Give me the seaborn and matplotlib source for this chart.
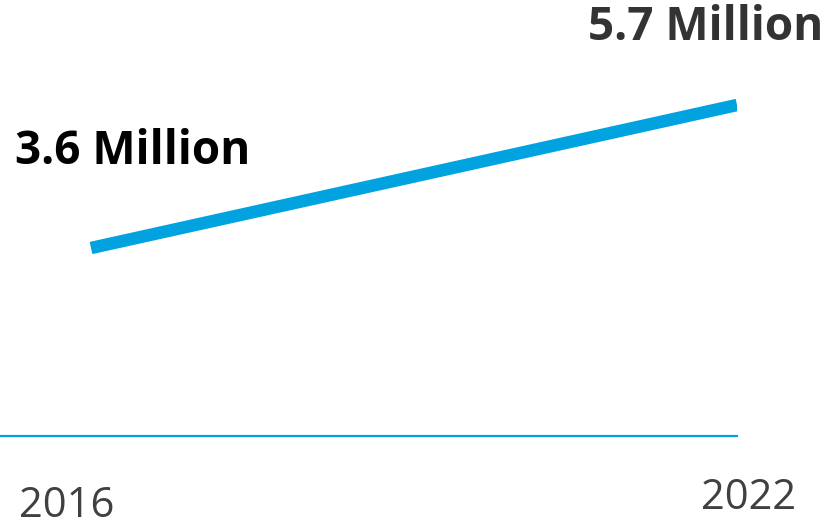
import matplotlib
matplotlib.use("Agg")
import matplotlib.pyplot as plt
import seaborn as sns
import pandas as pd

years = [2016, 2022]
values = [3.6, 5.7]
labels = ["3.6 Million", "5.7 Million"]
year_labels = ["2016", "2022"]

sns.set_theme(style="white")
plt.rcParams['font.family'] = ['Open Sans', 'DejaVu Sans']

W, H = 829, 528
fig = plt.figure(figsize=(W / 100, H / 100), dpi=100)
ax = fig.add_axes([0, 92 / H, 737 / W, 1 - 92 / H])

df = pd.DataFrame({"year": years, "value": values})
blue = "#00A3E0"
sns.lineplot(data=df, x="year", y="value", ax=ax, color=blue, linewidth=9,
             solid_capstyle="butt")

# x mapping: 2016 at pixel 91, 2022 at pixel 737
px_per_year = (737 - 91) / 6.0
ax.set_xlim(2016 - 91 / px_per_year, 2022)
# y mapping: 3.6 at pixel 248, 5.7 at pixel 105 (from top)
px_per_unit = (248 - 105) / 2.1
ymin = 3.6 - (436 - 248) / px_per_unit
ymax = 3.6 + 248 / px_per_unit
ax.set_ylim(ymin, ymax)

for s in ["top", "right", "left"]:
    ax.spines[s].set_visible(False)
ax.spines["bottom"].set_color(blue)
ax.spines["bottom"].set_linewidth(1.6)
ax.set_xticks([])
ax.set_yticks([])
ax.set_xlabel("")
ax.set_ylabel("")

fig.text(15 / W, 1 - 152 / H, labels[0], fontsize=33, fontweight="bold",
         color="#000000", ha="left", va="center")
fig.text(823 / W, 1 - 28 / H, labels[1], fontsize=33, fontweight="bold",
         color="#333333", ha="right", va="center")
fig.text(67 / W, 1 - 506 / H, year_labels[0], fontsize=30,
         color="#404040", ha="center", va="center")
fig.text(749 / W, 1 - 498 / H, year_labels[1], fontsize=30,
         color="#404040", ha="center", va="center")

fig.savefig("out.png", dpi=100)
